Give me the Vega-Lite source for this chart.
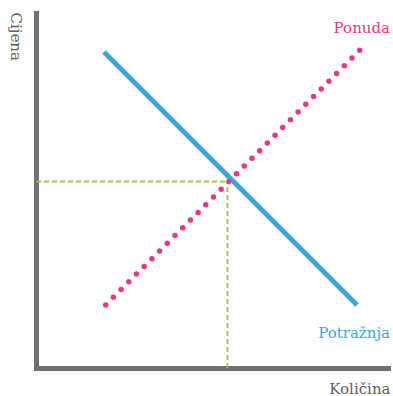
{
  "$schema": "https://vega.github.io/schema/vega-lite/v6.json",
  "width": 352,
  "height": 355,
  "autosize": {"type": "none"},
  "padding": {"left": 36, "top": 13, "right": 5, "bottom": 28},
  "background": "white",
  "config": {"view": {"stroke": null}},
  "encoding": {
    "x": {"type": "quantitative", "scale": {"domain": [0, 100], "nice": false, "zero": false},
      "axis": {"domainColor": "#707073", "domainWidth": 5, "domainCap": "square", "ticks": false, "labels": false, "grid": false,
        "title": "Količina", "titleFont": "DejaVu Serif", "titleFontSize": 15, "titleFontWeight": "normal", "titleColor": "#606062",
        "titleX": 354, "titleY": 25, "titleAlign": "right", "titleBaseline": "alphabetic"}},
    "y": {"type": "quantitative", "scale": {"domain": [0, 100], "nice": false, "zero": false},
      "axis": {"domainColor": "#707073", "domainWidth": 5, "domainCap": "square", "ticks": false, "labels": false, "grid": false,
        "title": "Cijena", "titleFont": "DejaVu Serif", "titleFontSize": 15, "titleFontWeight": "normal", "titleColor": "#606062",
        "titleAngle": 90, "titleX": -21, "titleY": -1, "titleAlign": "left", "titleBaseline": "middle"}}
  },
  "layer": [
    {
      "data": {"values": [{"x": 0, "x2": 54.403, "y": 52.535}]},
      "mark": {"type": "rule", "strokeWidth": 1.8, "strokeDash": [5, 3], "clip": false},
      "encoding": {"x": {"field": "x"}, "x2": {"field": "x2"}, "y": {"field": "y"}, "color": {"value": "#8fcc45"}}
    },
    {
      "data": {"values": [{"x": 54.403, "y": 0, "y2": 52.535}]},
      "mark": {"type": "rule", "strokeWidth": 1.8, "strokeDash": [5, 3], "clip": false},
      "encoding": {"x": {"field": "x"}, "y": {"field": "y"}, "y2": {"field": "y2"}, "color": {"value": "#8fcc45"}}
    },
    {
      "data": {"values": [{"q": 19.32, "p": 89.01, "o": 0}, {"q": 91.19, "p": 17.75, "o": 1}]},
      "mark": {"type": "line", "color": "#3aa8dd", "strokeWidth": 5, "strokeCap": "butt", "clip": false},
      "encoding": {"x": {"field": "q"}, "y": {"field": "p"}, "order": {"field": "o"}}
    },
    {
      "data": {"values": [{"q": 19.8, "p": 17.75, "o": 0}, {"q": 92.05, "p": 89.58, "o": 1}]},
      "mark": {"type": "line", "color": "#e8368b", "strokeWidth": 5.5, "strokeCap": "round", "strokeDash": [0, 10.9], "clip": false},
      "encoding": {"x": {"field": "q"}, "y": {"field": "p"}, "order": {"field": "o"}}
    },
    {
      "data": {"values": [{"q": 100.57, "p": 94.37, "label": "Ponuda", "c": "#e8368b"}, {"q": 100.57, "p": 8.54, "label": "Potražnja", "c": "#3aa8dd"}]},
      "mark": {"type": "text", "align": "right", "baseline": "alphabetic", "font": "DejaVu Serif", "fontSize": 15, "clip": false},
      "encoding": {"x": {"field": "q"}, "y": {"field": "p"}, "text": {"field": "label"}, "color": {"field": "c", "type": "nominal", "scale": null}}
    }
  ]
}
